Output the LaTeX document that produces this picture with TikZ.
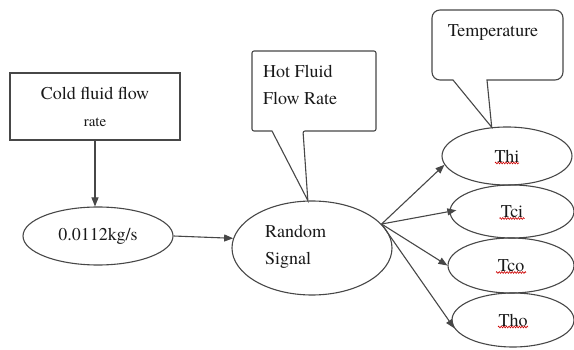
\documentclass[tikz,border=0pt]{standalone}
\usepackage{fontspec}
\setmainfont{TeX Gyre Termes}
\newfontfamily\labelfont{TeX Gyre Termes}
\usetikzlibrary{shapes.geometric,arrows.meta,decorations.pathmorphing,calc}

\begin{document}
\begin{tikzpicture}[x=1pt,y=-1pt,
  outline/.style={draw=black!72, line width=1.1pt},
  oval/.style={outline, ellipse, inner sep=0pt, font=\labelfont\fontsize{18}{27}\selectfont, text=black!90},
  lbl/.style={font=\labelfont\fontsize{18}{27}\selectfont, inner sep=0pt, text=black!90},
  link/.style={outline, -{Triangle[length=9pt,width=7pt]}},
  spell/.style={draw=red!80!black, line width=0.6pt, decorate,
    decoration={zigzag, amplitude=0.9pt, segment length=2.6pt}}
]
\useasboundingbox (0,0) rectangle (574,350);

% input block and its value
\node[outline, rectangle, minimum width=170pt, minimum height=67pt, inner sep=0pt] (cold) at (95,106.5) {};
\node[lbl] (coldA) at (95,93) {Cold fluid flow};
\node[lbl, font=\labelfont\fontsize{15}{18}\selectfont] (coldB) at (95,122) {rate};
\node[oval, minimum width=150pt, minimum height=58pt] (flow) at (98,236) {0.0112kg/s};

% random signal generator
\node[outline, ellipse, minimum width=160pt, minimum height=94pt, inner sep=0pt] (rs) at (312,248) {};
\node[lbl, anchor=west, align=left] (rsT) at (265,247) {Random\\Signal};

% temperature outputs
\node[oval, minimum width=130pt, minimum height=58pt] (thi) at (507,156) {Thi};
\node[oval, minimum width=124pt, minimum height=53pt] (tci) at (512,211.5) {Tci};
\node[oval, minimum width=126pt, minimum height=55pt] (tco) at (511,265.5) {Tco};
\node[oval, minimum width=122pt, minimum height=54pt] (tho) at (513,320) {Tho};

% callouts
\draw[outline, rounded corners=2pt] (272,131) -- (252,131) -- (252,51) -- (376,51) -- (376,131) -- (303,131)
  [sharp corners] -- (rs.95) -- cycle;
\node[lbl, anchor=west, align=left] (hotT) at (263,84.5) {Hot Fluid\\Flow Rate};

\draw[outline] (thi.118) -- (453,80) [rounded corners=8pt] -- (432,80) -- (432,10) -- (563,10) -- (563,80)
  [sharp corners] -- (487,80) -- cycle;
\node[lbl] (tempT) at (493,32) {Temperature};

% connectors
\draw[link] (cold.south) -- (cold.south |- flow.north);
\draw[link] (flow.east) -- (rs.173);
\draw[link] (rs.19) -- (thi.188);
\draw[link, shorten >=-7pt] (rs.19) -- (tci.west);
\draw[link] (rs.19) -- (tco.west);
\draw[link] (rs.19) -- (tho.188);

% spelling marks under the labels
\draw[spell] ($(thi.center)+(-12,7)$) -- ($(thi.center)+(12,7)$);
\draw[spell] ($(tci.center)+(-12.5,7)$) -- ($(tci.center)+(12.5,7)$);
\draw[spell] ($(tco.center)+(-15,7)$) -- ($(tco.center)+(15,7)$);
\draw[spell] ($(tho.center)+(-15,7)$) -- ($(tho.center)+(15,7)$);
\end{tikzpicture}
\end{document}
